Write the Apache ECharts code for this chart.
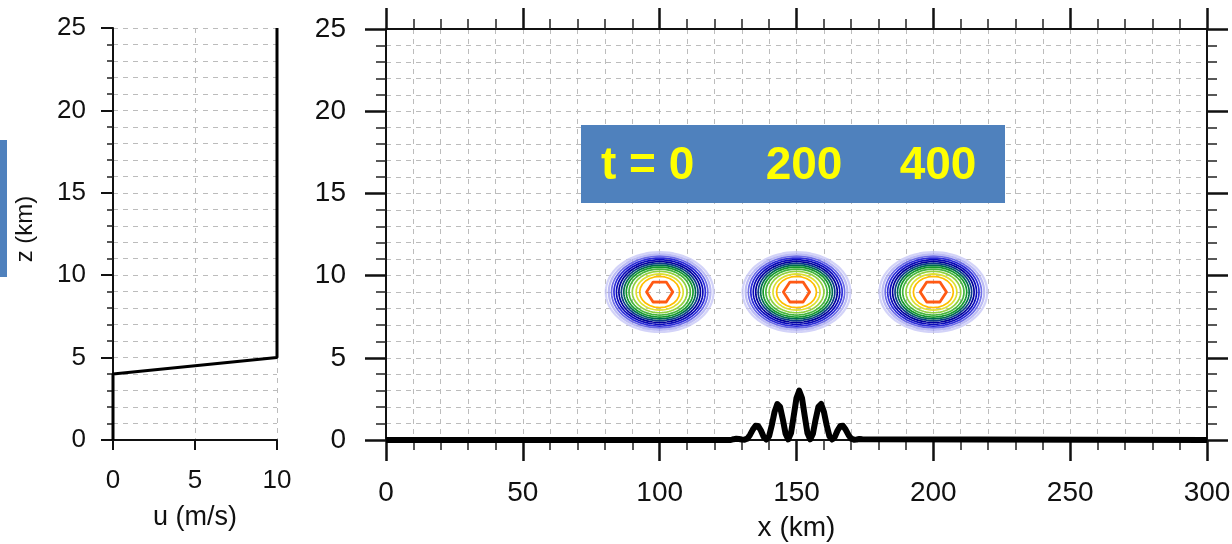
<!DOCTYPE html>
<html>
<head>
<meta charset="utf-8">
<script src="https://cdn.jsdelivr.net/npm/echarts@6/dist/echarts.min.js"></script>
<style>
html,body{margin:0;padding:0;background:#fff;}
#chart{width:1232px;height:544px;}
</style>
</head>
<body>
<div id="chart"></div>
<script>
// ---- data ----
// left panel: wind profile u(z)
const profileU = [0, 0, 10, 10];
const profileZ = [0, 4, 5, 25];
const uTicks = [0, 5, 10];
const zTicks = [0, 5, 10, 15, 20, 25];
const xTicks = [0, 50, 100, 150, 200, 250, 300];

// right panel: terrain (x in km, height in km), listed left to right
const terrainX = [0, 126, 127, 128, 129, 130, 131, 132, 133, 134, 135, 136, 137, 138, 139, 140, 141, 142, 143, 144, 145, 146, 147, 148, 149, 150,
  151, 152, 153, 154, 155, 156, 157, 158, 159, 160, 161, 162, 163, 164, 165, 166, 167, 168, 169, 170, 171, 172, 173, 174, 300];
const terrainZ = [0, 0, 0.05, 0.07, 0.06, 0.03, 0.02, 0.08, 0.31, 0.62, 0.86, 0.85, 0.58, 0.19, 0.03, 0.24, 0.92, 1.72, 2.19, 2.02, 1.26, 0.39, 0.04, 0.42, 1.47, 2.55, 3.00,
  2.55, 1.47, 0.42, 0.04, 0.39, 1.26, 2.02, 2.19, 1.72, 0.92, 0.24, 0.03, 0.19, 0.58, 0.85, 0.86, 0.62, 0.31, 0.08, 0.02, 0.03, 0.06, 0.04, 0];

// bubble positions at t = 0, 200, 400
const blobX = [100, 150, 200];
const blobZ = [9, 9, 9];
const timeLabels = ['t = 0', '200', '400'];

// contour rings (outer -> inner): semi-axes in km
const ringA = [19.7, 18.6, 17.6, 16.7, 15.8, 14.9, 14.0, 13.1, 12.2, 11.2, 10.0, 8.6, 7.3, 4.8];
const ringB = [2.43, 2.30, 2.18, 2.07, 1.96, 1.85, 1.74, 1.63, 1.52, 1.40, 1.26, 1.10, 0.95, 0.70];
const ringSides = [72, 72, 72, 72, 72, 72, 72, 72, 72, 72, 72, 48, 24, 6];
const ringColors = ['#c4c4f6', '#a4a4f0', '#6c6ce6', '#2c2cd8', '#0a0ab8', '#00009c', '#0a3a8a', '#006a50', '#14982c', '#44b43c', '#90d040', '#dce030', '#ffbe00', '#ff5a14'];

// ---- build ----
const FONT = '"Liberation Sans", Arial, Helvetica, sans-serif';
const gridDash = {color: '#bcbcbc', width: 1, type: [5, 5]};

const profileData = profileU.map((u, i) => [u, profileZ[i]]);
const terrainData = terrainX.map((x, i) => [x, terrainZ[i]]);
const ringData = [];
blobX.forEach((bx, bi) => {
  ringA.forEach((a, ri) => ringData.push([bx, blobZ[bi], ri]));
});

const chart = echarts.init(document.getElementById('chart'), null, {renderer: 'canvas'});

const option = {
  backgroundColor: '#ffffff',
  animation: false,
  grid: [
    {left: 113, top: 28, width: 164, height: 412, containLabel: false, outerBoundsMode: 'none'},
    {left: 386, top: 29, width: 821, height: 411, containLabel: false, outerBoundsMode: 'none'}
  ],
  xAxis: [
    {
      gridIndex: 0, type: 'value', min: 0, max: 10, interval: 5, position: 'bottom',
      name: 'u (m/s)', nameLocation: 'middle', nameGap: 64,
      nameTextStyle: {fontFamily: FONT, fontSize: 27, color: '#111'},
      axisLine: {show: true, onZero: false, lineStyle: {color: '#111', width: 2}},
      axisTick: {show: true, length: 10, lineStyle: {color: '#111', width: 2}},
      axisLabel: {fontFamily: FONT, fontSize: 26, color: '#111', margin: 28,
        formatter: v => uTicks.includes(v) ? String(v) : ''},
      splitLine: {show: true, lineStyle: gridDash}
    },
    {
      gridIndex: 1, type: 'value', min: 0, max: 300, interval: 50, position: 'bottom',
      name: 'x (km)', nameLocation: 'middle', nameGap: 74,
      nameTextStyle: {fontFamily: FONT, fontSize: 28, color: '#111'},
      axisLine: {show: true, onZero: false, lineStyle: {color: '#111', width: 2}},
      axisTick: {show: true, length: 21, lineStyle: {color: '#111', width: 2.5}},
      minorTick: {show: true, splitNumber: 5, length: 10, lineStyle: {color: '#222', width: 1.5}},
      axisLabel: {fontFamily: FONT, fontSize: 28, color: '#111', margin: 39,
        formatter: v => xTicks.includes(v) ? String(v) : ''},
      splitLine: {show: true, lineStyle: gridDash},
      minorSplitLine: {show: true, lineStyle: gridDash}
    },
    {
      gridIndex: 1, type: 'value', min: 0, max: 300, interval: 50, position: 'top',
      axisLine: {show: true, onZero: false, lineStyle: {color: '#111', width: 2}},
      axisTick: {show: true, length: 21, lineStyle: {color: '#111', width: 2.5}},
      minorTick: {show: true, splitNumber: 5, length: 10, lineStyle: {color: '#222', width: 1.5}},
      axisLabel: {show: false},
      splitLine: {show: false}
    }
  ],
  yAxis: [
    {
      gridIndex: 0, type: 'value', min: 0, max: 25, interval: 5, position: 'left',
      axisLine: {show: true, onZero: false, lineStyle: {color: '#111', width: 2}},
      axisTick: {show: true, length: 12, lineStyle: {color: '#111', width: 2}},
      minorTick: {show: true, splitNumber: 5, length: 6, lineStyle: {color: '#222', width: 1.5}},
      axisLabel: {fontFamily: FONT, fontSize: 26, color: '#111', margin: 27,
        formatter: v => zTicks.includes(v) ? String(v) : ''},
      splitLine: {show: true, lineStyle: gridDash},
      minorSplitLine: {show: true, lineStyle: gridDash}
    },
    {
      gridIndex: 1, type: 'value', min: 0, max: 25, interval: 5, position: 'left',
      axisLine: {show: true, onZero: false, lineStyle: {color: '#111', width: 2}},
      axisTick: {show: true, length: 21, lineStyle: {color: '#111', width: 2.5}},
      minorTick: {show: true, splitNumber: 5, length: 10, lineStyle: {color: '#222', width: 1.5}},
      axisLabel: {fontFamily: FONT, fontSize: 28, color: '#111', margin: 40,
        formatter: v => zTicks.includes(v) ? String(v) : ''},
      splitLine: {show: true, lineStyle: gridDash},
      minorSplitLine: {show: true, lineStyle: gridDash}
    },
    {
      gridIndex: 1, type: 'value', min: 0, max: 25, interval: 5, position: 'right',
      axisLine: {show: true, onZero: false, lineStyle: {color: '#111', width: 2}},
      axisTick: {show: true, length: 21, lineStyle: {color: '#111', width: 2.5}},
      minorTick: {show: true, splitNumber: 5, length: 10, lineStyle: {color: '#222', width: 1.5}},
      axisLabel: {show: false},
      splitLine: {show: false}
    }
  ],
  series: [
    {
      type: 'line', xAxisIndex: 0, yAxisIndex: 0, data: profileData,
      showSymbol: false, symbol: 'none', clip: false, z: 5,
      lineStyle: {color: '#000', width: 3}
    },
    {
      type: 'custom', xAxisIndex: 1, yAxisIndex: 1, data: ringData,
      encode: {x: 0, y: 1}, clip: true, silent: true, z: 4,
      renderItem: function (params, api) {
        const cx = api.value(0), cz = api.value(1), ri = api.value(2);
        const a = ringA[ri], b = ringB[ri], n = ringSides[ri];
        const pts = [];
        for (let k = 0; k < n; k++) {
          const th = 2 * Math.PI * k / n;
          pts.push(api.coord([cx + a * Math.cos(th), cz + b * Math.sin(th)]));
        }
        return {
          type: 'polygon',
          shape: {points: pts},
          style: {fill: 'none', stroke: ringColors[ri], lineWidth: ri < 2 ? 2.2 : (ri === 13 ? 2.8 : 1.7), opacity: ri < 2 ? 0.75 : 1, lineJoin: 'round'}
        };
      }
    },
    {
      type: 'line', xAxisIndex: 1, yAxisIndex: 1, data: terrainData,
      showSymbol: false, symbol: 'none', clip: false, z: 6,
      lineStyle: {color: '#000', width: 6, join: 'round'}
    }
  ],
  graphic: [
    {type: 'rect', shape: {x: 0, y: 140, width: 7, height: 137}, style: {fill: '#4f81bd'}, z: 10},
    {type: 'text', x: 25, y: 229, rotation: Math.PI / 2,
      style: {text: 'z (km)', fontFamily: FONT, fontSize: 24, fill: '#111', align: 'center', verticalAlign: 'middle'}, z: 10},
    {type: 'rect', shape: {x: 581, y: 125, width: 424, height: 78}, style: {fill: '#4f81bd'}, z: 10},
    {type: 'text', x: 601, y: 166, style: {text: timeLabels[0], fontFamily: FONT, fontWeight: 'bold', fontSize: 46, fill: '#ffff00', align: 'left', verticalAlign: 'middle'}, z: 11},
    {type: 'text', x: 804, y: 166, style: {text: timeLabels[1], fontFamily: FONT, fontWeight: 'bold', fontSize: 46, fill: '#ffff00', align: 'center', verticalAlign: 'middle'}, z: 11},
    {type: 'text', x: 938, y: 166, style: {text: timeLabels[2], fontFamily: FONT, fontWeight: 'bold', fontSize: 46, fill: '#ffff00', align: 'center', verticalAlign: 'middle'}, z: 11}
  ]
};
chart.setOption(option);
</script>
</body>
</html>
